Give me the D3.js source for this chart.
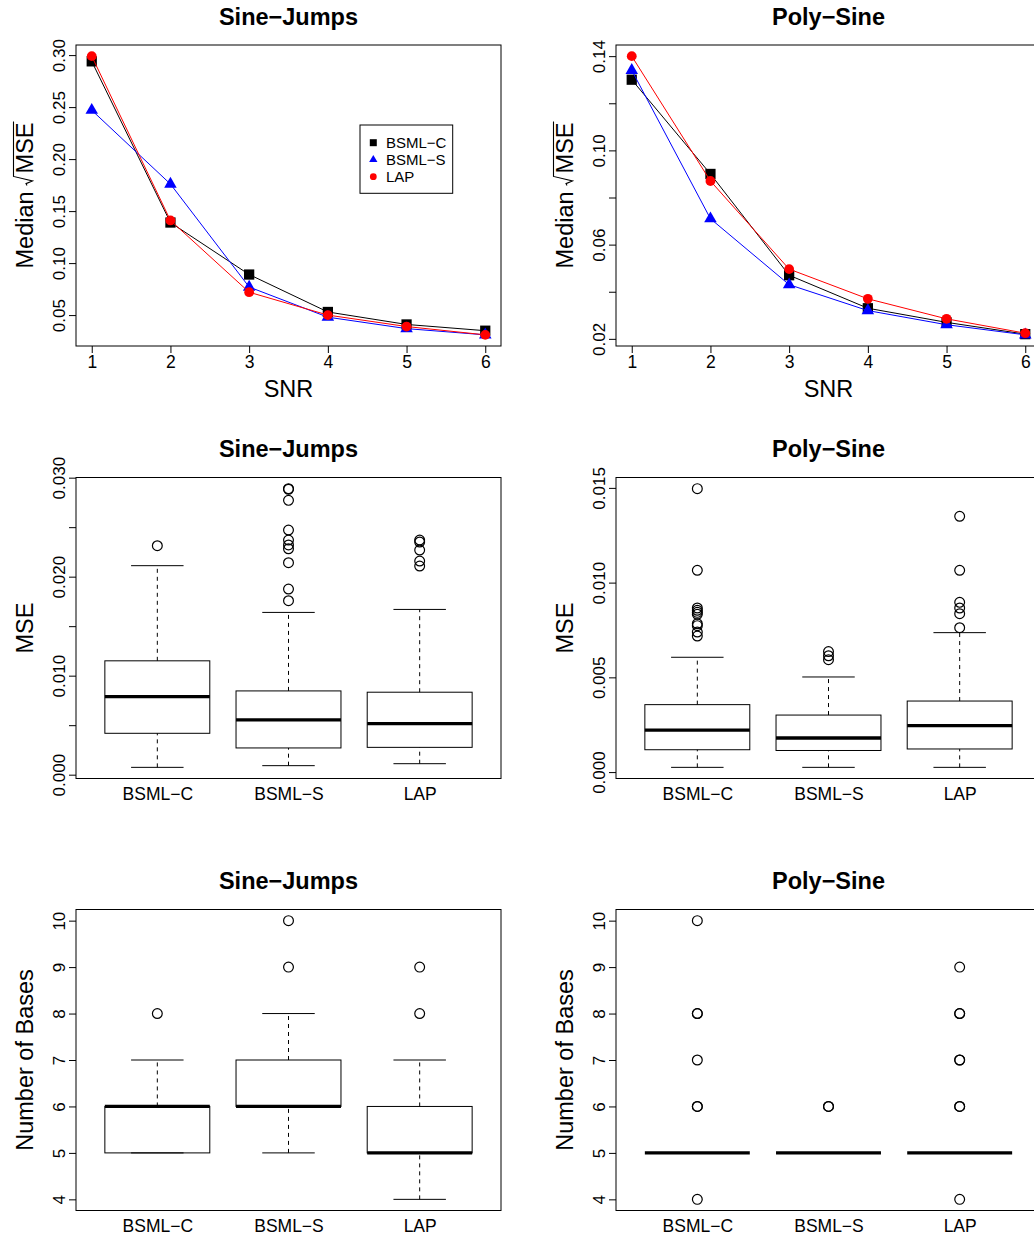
<!DOCTYPE html>
<html>
<head>
<meta charset="utf-8">
<script src="https://cdn.jsdelivr.net/npm/d3@7"></script>
<style>
body { margin: 0; background: #fff; }
svg { display: block; font-family: "Liberation Sans", Arial, Helvetica, sans-serif; }
</style>
</head>
<body>
<div id="chart-container"></div>
<script>
// SNR levels and the three methods
const snr = [1, 2, 3, 4, 5, 6];
const methods = ["BSML−C", "BSML−S", "LAP"];

// median sqrt(MSE), Sine-Jumps
const sjBsmlC = [0.294, 0.139, 0.089, 0.053, 0.041, 0.035];
const sjBsmlS = [0.247, 0.176, 0.077, 0.048, 0.037, 0.031];
const sjLap   = [0.299, 0.141, 0.072, 0.050, 0.039, 0.031];

// median sqrt(MSE), Poly-Sine
const psBsmlC = [0.130, 0.090, 0.047, 0.033, 0.027, 0.022];
const psBsmlS = [0.134, 0.071, 0.043, 0.032, 0.026, 0.0217];
const psLap   = [0.140, 0.087, 0.0496, 0.037, 0.0285, 0.0224];

// boxplot stats: [lower whisker, q1, median, q3, upper whisker]
const sjMseStats = [
    [0.00074, 0.00418, 0.00789, 0.01150, 0.02111],
    [0.00091, 0.00270, 0.00553, 0.00846, 0.01639],
    [0.00111, 0.00276, 0.00516, 0.00833, 0.01669]
];
const sjMseOut = [
    [0.02313],
    [0.02889, 0.02883, 0.02771, 0.02471, 0.02370, 0.02320, 0.02282, 0.02141, 0.01875, 0.01757],
    [0.02370, 0.02350, 0.02269, 0.02158, 0.02107]
];
const psMseStats = [
    [0.00025, 0.00118, 0.00222, 0.00356, 0.00606],
    [0.00025, 0.00114, 0.00180, 0.00301, 0.00502],
    [0.00025, 0.00122, 0.00245, 0.00375, 0.00736]
];
const psMseOut = [
    [0.01496, 0.01065, 0.00866, 0.00854, 0.00843, 0.00833, 0.00783, 0.00773, 0.00739, 0.00718],
    [0.00636, 0.00614, 0.00593],
    [0.01350, 0.01065, 0.00896, 0.00866, 0.00836, 0.00762]
];
const sjBasesStats = [[5, 5, 6, 6, 7], [5, 6, 6, 7, 8], [4, 5, 5, 6, 7]];
const sjBasesOut = [[8], [9, 10], [8, 9]];
const psBasesStats = [[5, 5, 5, 5, 5], [5, 5, 5, 5, 5], [5, 5, 5, 5, 5]];
const psBasesOut = [[4, 6, 6, 7, 8, 8, 10], [6, 6], [4, 6, 6, 7, 7, 8, 8, 9]];

// tick values and labels
const sjRmseTicks = [0.05, 0.10, 0.15, 0.20, 0.25, 0.30];
const sjRmseLabels = ["0.05", "0.10", "0.15", "0.20", "0.25", "0.30"];
const psRmseTicks = [0.02, 0.04, 0.06, 0.08, 0.10, 0.12, 0.14];
const psRmseLabels = ["0.02", "", "0.06", "", "0.10", "", "0.14"];
const sjMseTicks = [0, 0.005, 0.010, 0.015, 0.020, 0.025, 0.030];
const sjMseLabels = ["0.000", "", "0.010", "", "0.020", "", "0.030"];
const psMseTicks = [0, 0.005, 0.010, 0.015];
const psMseLabels = ["0.000", "0.005", "0.010", "0.015"];
const basesTicks = [4, 5, 6, 7, 8, 9, 10];
const basesLabels = ["4", "5", "6", "7", "8", "9", "10"];

const W = 425, H = 301;
const colLeft = [76, 616];
const rowTop = [45, 477.5, 909.5];
const colors = ["#000000", "#0000ff", "#ff0000"];
const shapes = ["square", "triangle", "circle"];

const svg = d3.select("#chart-container")
    .append("svg")
    .attr("width", 1034)
    .attr("height", 1238);

svg.append("rect").attr("width", 1034).attr("height", 1238).attr("fill", "#fff");

function padded(vals) {
    const [lo, hi] = d3.extent(vals);
    const p = (hi - lo) * 0.04;
    return [lo - p, hi + p];
}

function frame(g, title) {
    g.append("rect")
        .attr("width", W).attr("height", H)
        .attr("fill", "none").attr("stroke", "#000").attr("stroke-width", 1);
    g.append("text")
        .attr("x", W / 2).attr("y", -20.5)
        .attr("text-anchor", "middle")
        .attr("font-size", 23.5).attr("font-weight", "bold")
        .text(title);
}

function yAxis(g, y, ticks, labels) {
    const ax = g.append("g")
        .call(d3.axisLeft(y).tickValues(ticks).tickSize(7).tickFormat((d, i) => labels[i]));
    ax.select(".domain").remove();
    ax.attr("font-family", null).attr("font-size", 17);
    ax.selectAll(".tick line").attr("stroke", "#000");
    ax.selectAll(".tick text")
        .attr("x", null).attr("dy", null)
        .attr("fill", "#000")
        .attr("text-anchor", "middle")
        .attr("transform", "translate(-11.5,0) rotate(-90)");
}

function yTitle(g, text, root) {
    const t = g.append("g")
        .attr("transform", `translate(-43,${H / 2}) rotate(-90)`)
        .attr("font-size", 23.5);
    if (!root) {
        t.append("text").attr("text-anchor", "middle").text(text);
        return;
    }
    const a = t.append("text").text(text);
    const wa = a.node().getComputedTextLength() + 6;
    const b = t.append("text").text(root);
    const wb = b.node().getComputedTextLength();
    const rw = 12;
    const x0 = -(wa + rw + wb) / 2;
    a.attr("x", x0);
    b.attr("x", x0 + wa + rw);
    const r = x0 + wa;
    t.append("path")
        .attr("d", `M${r},-6 L${r + 1.8},-7 L${r + 4.5},-0.5 L${r + 9},-19.5 L${r + rw + wb + 1},-19.5`)
        .attr("fill", "none").attr("stroke", "#000").attr("stroke-width", 1.1);
}

function marker(sel, shape, size) {
    if (shape === "circle") return sel.append("circle").attr("r", size.r);
    const sym = shape === "square" ? d3.symbolSquare : d3.symbolTriangle;
    return sel.append("path").attr("d", d3.symbol(sym, shape === "square" ? size.sq : size.tri)());
}

function linePanel(col, title, series, ticks, labels, withLegend) {
    const g = svg.append("g").attr("transform", `translate(${colLeft[col]},${rowTop[0]})`);
    const x = d3.scaleLinear().domain([1 - 0.2, 6 + 0.2]).range([0, W]);
    const y = d3.scaleLinear().domain(padded(series.flat())).range([H, 0]);

    frame(g, title);
    yAxis(g, y, ticks, labels);

    const xa = g.append("g").attr("transform", `translate(0,${H})`)
        .call(d3.axisBottom(x).tickValues(snr).tickSize(7).tickPadding(3).tickFormat(d3.format("d")));
    xa.select(".domain").remove();
    xa.attr("font-family", null).attr("font-size", 17.5);
    xa.selectAll(".tick line").attr("stroke", "#000");
    xa.selectAll(".tick text").attr("fill", "#000");

    const line = d3.line().x((d, i) => x(snr[i])).y(d => y(d));
    series.forEach((vals, k) => {
        g.append("path").datum(vals)
            .attr("d", line)
            .attr("fill", "none").attr("stroke", colors[k]).attr("stroke-width", 1);
        vals.forEach((v, i) => {
            const p = g.append("g").attr("transform", `translate(${x(snr[i])},${y(v)})`);
            marker(p, shapes[k], { r: 4.9, sq: 105, tri: 68 }).attr("fill", colors[k]);
        });
    });

    g.append("text")
        .attr("x", W / 2).attr("y", H + 51)
        .attr("text-anchor", "middle").attr("font-size", 23.5)
        .text("SNR");
    yTitle(g, "Median", "MSE");

    if (withLegend) {
        const lg = g.append("g").attr("transform", "translate(284,80)");
        lg.append("rect").attr("width", 92.7).attr("height", 68.3)
            .attr("fill", "#fff").attr("stroke", "#000").attr("stroke-width", 1);
        methods.forEach((m, k) => {
            const ry = 17.7 + k * 17;
            const p = lg.append("g").attr("transform", `translate(13.3,${ry})`);
            marker(p, shapes[k], { r: 3.4, sq: 49, tri: 30 }).attr("fill", colors[k]);
            lg.append("text").attr("x", 26).attr("y", ry + 5.3)
                .attr("font-size", 15).text(m);
        });
    }
}

function boxPanel(col, row, title, label, stats, outs, ticks, labels) {
    const g = svg.append("g").attr("transform", `translate(${colLeft[col]},${rowTop[row]})`);
    const x = d3.scaleLinear().domain([0.5 - 0.12, 3.5 + 0.12]).range([0, W]);
    const y = d3.scaleLinear().domain(padded(stats.flat().concat(outs.flat()))).range([H, 0]);

    frame(g, title);
    yAxis(g, y, ticks, labels);

    const xa = g.append("g").attr("transform", `translate(0,${H})`)
        .call(d3.axisBottom(x).tickValues([1, 2, 3]).tickSize(0).tickPadding(9.5)
            .tickFormat((d, i) => methods[i]));
    xa.select(".domain").remove();
    xa.selectAll(".tick line").remove();
    xa.attr("font-family", null).attr("font-size", 17.5);
    xa.selectAll(".tick text").attr("fill", "#000");

    stats.forEach((s, i) => {
        const cx = x(i + 1);
        const bw = x(1.4) - x(1);
        const sw = x(1.2) - x(1);
        // whiskers
        [[s[0], s[1]], [s[3], s[4]]].forEach(([a, b]) => {
            g.append("line").attr("x1", cx).attr("x2", cx).attr("y1", y(a)).attr("y2", y(b))
                .attr("stroke", "#000").attr("stroke-dasharray", "4,4");
        });
        [s[0], s[4]].forEach(v => {
            g.append("line").attr("x1", cx - sw).attr("x2", cx + sw).attr("y1", y(v)).attr("y2", y(v))
                .attr("stroke", "#000");
        });
        g.append("rect")
            .attr("x", cx - bw).attr("width", bw * 2)
            .attr("y", y(s[3])).attr("height", y(s[1]) - y(s[3]))
            .attr("fill", "none").attr("stroke", "#000");
        g.append("line").attr("x1", cx - bw).attr("x2", cx + bw).attr("y1", y(s[2])).attr("y2", y(s[2]))
            .attr("stroke", "#000").attr("stroke-width", 3.3);
        outs[i].forEach(v => {
            g.append("circle").attr("cx", cx).attr("cy", y(v)).attr("r", 4.9)
                .attr("fill", "none").attr("stroke", "#000").attr("stroke-width", 1.2);
        });
    });

    yTitle(g, label);
}

linePanel(0, "Sine−Jumps", [sjBsmlC, sjBsmlS, sjLap], sjRmseTicks, sjRmseLabels, true);
linePanel(1, "Poly−Sine", [psBsmlC, psBsmlS, psLap], psRmseTicks, psRmseLabels, false);
boxPanel(0, 1, "Sine−Jumps", "MSE", sjMseStats, sjMseOut, sjMseTicks, sjMseLabels);
boxPanel(1, 1, "Poly−Sine", "MSE", psMseStats, psMseOut, psMseTicks, psMseLabels);
boxPanel(0, 2, "Sine−Jumps", "Number of Bases", sjBasesStats, sjBasesOut, basesTicks, basesLabels);
boxPanel(1, 2, "Poly−Sine", "Number of Bases", psBasesStats, psBasesOut, basesTicks, basesLabels);
</script>
</body>
</html>
